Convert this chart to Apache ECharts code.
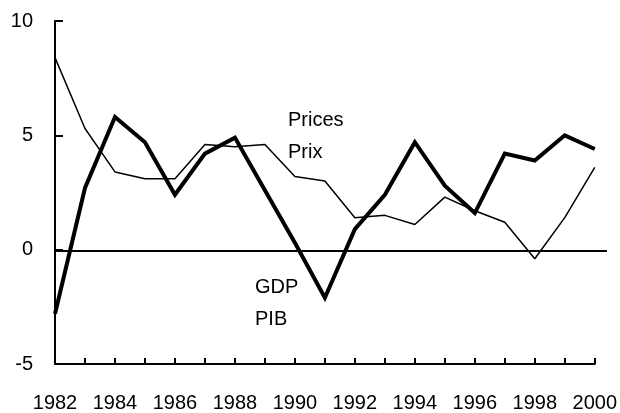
<!DOCTYPE html>
<html>
<head>
<meta charset="utf-8">
<script src="https://cdn.jsdelivr.net/npm/echarts@6/dist/echarts.min.js"></script>
<style>
  html, body { margin: 0; padding: 0; background: #fff; }
  #main { width: 620px; height: 413px; }
</style>
</head>
<body>
<div id="main"></div>
<script>
// years on the x axis
var years = ['1982', '1983', '1984', '1985', '1986', '1987', '1988', '1989', '1990', '1991',
             '1992', '1993', '1994', '1995', '1996', '1997', '1998', '1999', '2000'];
// real GDP growth, %
var gdp = [-2.8, 2.7, 5.8, 4.7, 2.4, 4.2, 4.9, 2.6, 0.3, -2.1,
           0.9, 2.4, 4.7, 2.8, 1.6, 4.2, 3.9, 5.0, 4.4];
// price growth, %
var prices = [8.4, 5.3, 3.4, 3.1, 3.1, 4.6, 4.5, 4.6, 3.2, 3.0,
              1.4, 1.5, 1.1, 2.3, 1.7, 1.2, -0.4, 1.4, 3.6];
var yTicks = { min: -5, max: 10, step: 5 };

var font = "'Liberation Sans', Arial, sans-serif";
var chart = echarts.init(document.getElementById('main'));
chart.setOption({
    animation: false,
    backgroundColor: '#fff',
    textStyle: { fontFamily: font, color: '#000' },
    grid: [
        { left: 55, right: 25, top: 21, bottom: 48 },
        { left: 55, right: 13, top: 21, bottom: 48 }   // zero line runs a bit past 2000
    ],
    xAxis: [{
        type: 'category',
        gridIndex: 0,
        data: years,
        boundaryGap: false,
        axisLine: { onZero: false, lineStyle: { color: '#000', width: 2 } },
        axisTick: { inside: true, length: 6, interval: 0, lineStyle: { color: '#000', width: 2 } },
        axisLabel: { interval: 1, margin: 29, fontSize: 20, color: '#000', fontFamily: font },
        splitLine: { show: false }
    }, {
        type: 'category',
        gridIndex: 1,
        data: years,
        boundaryGap: false,
        show: false
    }],
    yAxis: [{
        type: 'value',
        gridIndex: 0,
        min: yTicks.min,
        max: yTicks.max,
        interval: yTicks.step,
        axisLine: { show: true, lineStyle: { color: '#000', width: 2 } },
        axisTick: { show: true, inside: true, length: 8, lineStyle: { color: '#000', width: 2 } },
        axisLabel: { margin: 22, fontSize: 20, color: '#000', fontFamily: font },
        splitLine: { show: false }
    }, {
        type: 'value',
        gridIndex: 1,
        min: yTicks.min,
        max: yTicks.max,
        interval: yTicks.step,
        show: false,
        splitLine: { show: false }
    }],
    series: [{
        name: 'zero',
        type: 'line',
        xAxisIndex: 1,
        yAxisIndex: 1,
        data: [],
        markLine: {
            silent: true,
            symbol: 'none',
            label: { show: false },
            lineStyle: { color: '#000', width: 2, type: 'solid' },
            data: [{ yAxis: 0 }]
        }
    }, {
        name: 'Prices',
        type: 'line',
        data: prices,
        symbol: 'none',
        lineStyle: { color: '#000', width: 1.5 }
    }, {
        name: 'GDP',
        type: 'line',
        data: gdp,
        symbol: 'none',
        lineStyle: { color: '#000', width: 4, join: 'miter' }
    }],
    graphic: [
        { type: 'text', left: 288, top: 110, style: { text: 'Prices', font: '20px ' + font, fill: '#000' } },
        { type: 'text', left: 288, top: 142, style: { text: 'Prix', font: '20px ' + font, fill: '#000' } },
        { type: 'text', left: 255, top: 277, style: { text: 'GDP', font: '20px ' + font, fill: '#000' } },
        { type: 'text', left: 255, top: 309, style: { text: 'PIB', font: '20px ' + font, fill: '#000' } }
    ]
});
</script>
</body>
</html>
